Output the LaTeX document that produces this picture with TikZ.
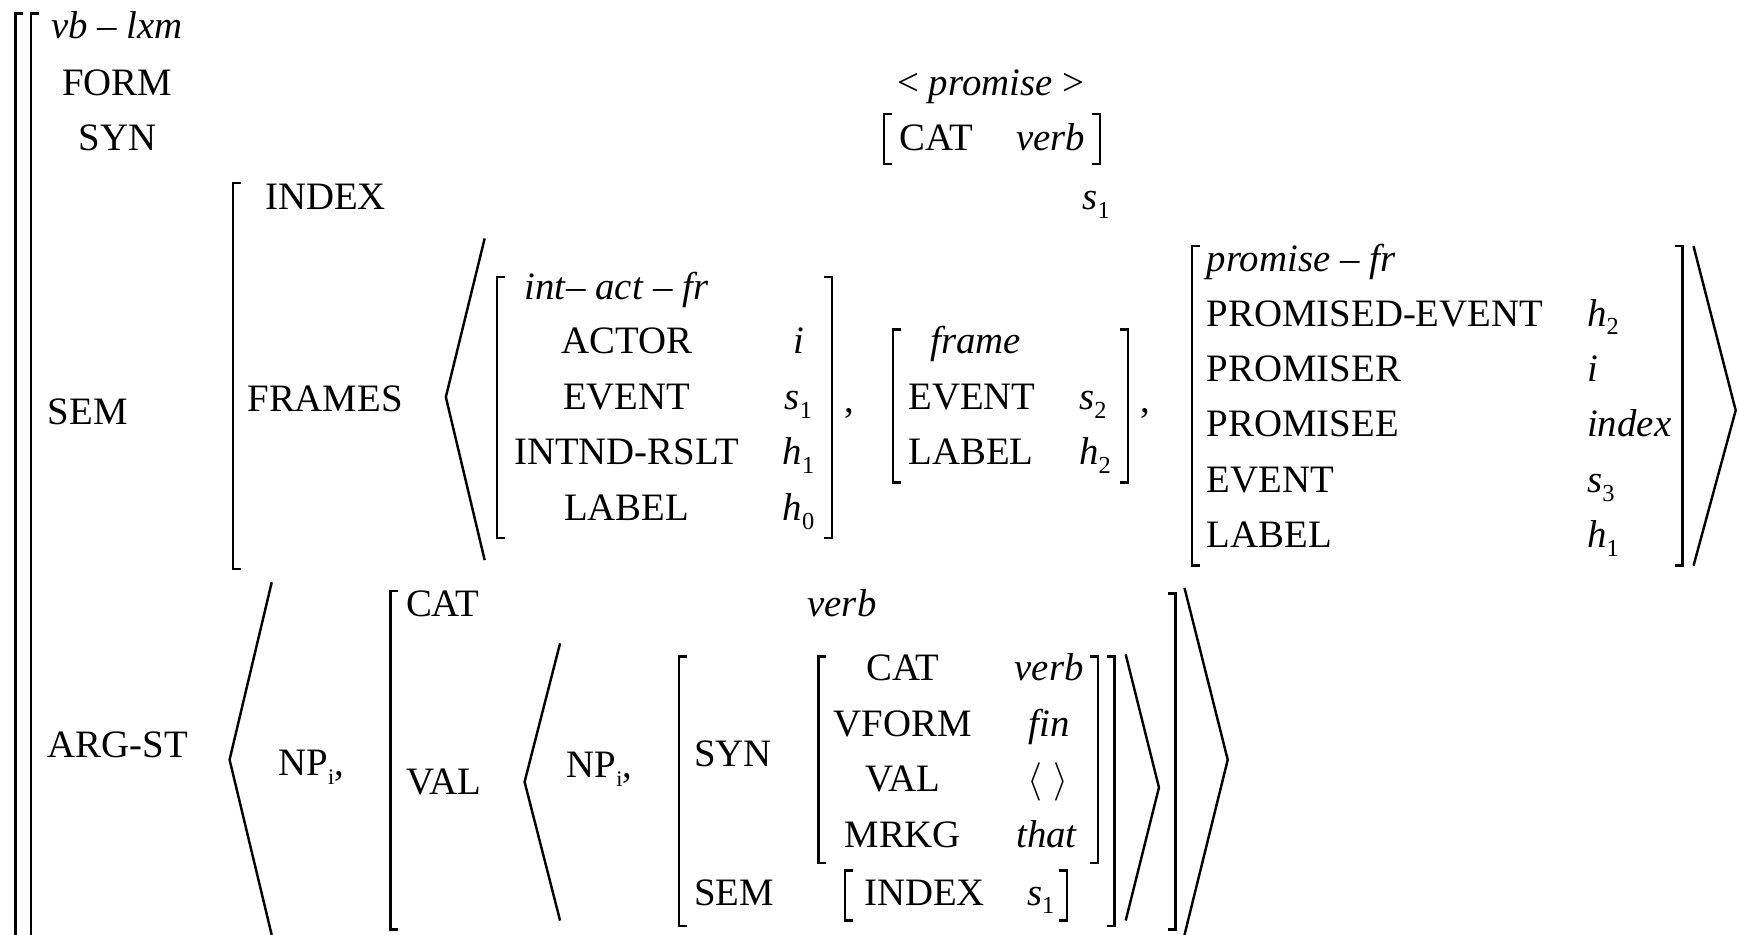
\documentclass[tikz,border=0pt]{standalone}
\usepackage{fontspec}
\setmainfont{Liberation Serif}

% square brackets: x, top, bottom
\newcommand{\lbrk}[3]{\draw (#1+7,#2) -- (#1,#2) -- (#1,#3) -- (#1+7,#3);}
\newcommand{\rbrk}[3]{\draw (#1-7,#2) -- (#1,#2) -- (#1,#3) -- (#1-7,#3);}
% italic letter with lowered index
\newcommand{\vsub}[2]{\textit{#1}\raisebox{-0.5ex}{\fontsize{11}{11}\selectfont #2}}
\newcommand{\npi}{NP\raisebox{-0.5ex}{\fontsize{10}{10}\selectfont i},}

\begin{document}
\begin{tikzpicture}[x=0.5pt, y=-0.5pt, line width=1.1pt,
    font=\fontsize{17.5}{21}\selectfont,
    attr/.style={anchor=base west, inner sep=0pt},
    ctr/.style={anchor=base, inner sep=0pt}]
    \useasboundingbox (0,0) rectangle (1568,843);

    % Outer brackets
    \draw (21,12) -- (14,12) -- (14,860);
    \draw (35,12) -- (28,12) -- (28,860);

    % Type, FORM and SYN
    \node[attr] (type) at (45,35) {\textit{vb} – \textit{lxm}};
    \node[attr] (form) at (55,86) {FORM};
    \node[attr] (syn) at (70,136) {SYN};
    \node[attr] (formval) at (808,86) {< \textit{promise} >};
    \lbrk{797}{103}{148}
    \node[attr] (syncat) at (810,136) {CAT};
    \node[attr] (synverb) at (915,136) {\textit{verb}};
    \rbrk{992}{103}{148}

    % SEM
    \node[attr] (sem) at (42,383) {SEM};
    \lbrk{210}{165}{513}
    \node[attr] (index) at (238,189) {INDEX};
    \node[attr] (indexval) at (975,189) {\vsub{s}{1}};
    \node[attr] (frames) at (222,371) {FRAMES};
    \draw (437,215) -- (402,358) -- (437,505);

    % int-act-fr
    \lbrk{448}{250}{485}
    \node[attr] (intact) at (472,270) {\textit{int}– \textit{act} – \textit{fr}};
    \node[ctr] (actor) at (565,319) {ACTOR};
    \node[ctr] (actorval) at (720,319) {\textit{i}};
    \node[ctr] (event) at (565,369) {EVENT};
    \node[ctr] (eventval) at (720,369) {\vsub{s}{1}};
    \node[ctr] (intnd) at (565,419) {INTND-RSLT};
    \node[ctr] (intndval) at (720,419) {\vsub{h}{1}};
    \node[ctr] (label) at (565,469) {LABEL};
    \node[ctr] (labelval) at (720,469) {\vsub{h}{0}};
    \rbrk{750}{250}{485}
    \node[attr] (commaA) at (760,372) {,};

    % frame
    \lbrk{805}{297}{435}
    \node[attr] (frame) at (838,319) {\textit{frame}};
    \node[attr] (fevent) at (818,369) {EVENT};
    \node[attr] (feventval) at (972,369) {\vsub{s}{2}};
    \node[attr] (flabel) at (818,419) {LABEL};
    \node[attr] (flabelval) at (972,419) {\vsub{h}{2}};
    \rbrk{1017}{297}{435}
    \node[attr] (commaB) at (1027,372) {,};

    % promise-fr
    \lbrk{1075}{222}{510}
    \node[attr] (promfr) at (1087,245) {\textit{promise} – \textit{fr}};
    \node[attr] (pevent) at (1087,294) {PROMISED-EVENT};
    \node[attr] (peventval) at (1430,294) {\vsub{h}{2}};
    \node[attr] (promiser) at (1087,344) {PROMISER};
    \node[attr] (promiserval) at (1430,344) {\textit{i}};
    \node[attr] (promisee) at (1087,394) {PROMISEE};
    \node[attr] (promiseeval) at (1430,394) {\textit{index}};
    \node[attr] (pevent2) at (1087,444) {EVENT};
    \node[attr] (pevent2val) at (1430,444) {\vsub{s}{3}};
    \node[attr] (plabel) at (1087,494) {LABEL};
    \node[attr] (plabelval) at (1430,494) {\vsub{h}{1}};
    \rbrk{1517}{222}{510}
    \draw (1527,222) -- (1565,370) -- (1527,510);

    % ARG-ST
    \node[attr] (argst) at (42,683) {ARG-ST};
    \draw (245,525) -- (207,685) -- (245,843);
    \node[attr] (npA) at (250,699) {\npi};
    \lbrk{352}{533}{838}
    \node[attr] (argcat) at (365,556) {CAT};
    \node[attr] (argverb) at (727,556) {\textit{verb}};
    \node[attr] (argval) at (365,716) {VAL};
    \draw (505,580) -- (473,705) -- (505,830);
    \node[attr] (npB) at (510,701) {\npi};

    % complement
    \lbrk{612}{592}{835}
    \node[attr] (csyn) at (625,691) {SYN};
    \node[attr] (csem) at (625,816) {SEM};
    \lbrk{738}{592}{778}
    \node[ctr] (ccat) at (814,614) {CAT};
    \node[ctr] (ccatval) at (946,614) {\textit{verb}};
    \node[ctr] (cvform) at (814,664) {VFORM};
    \node[ctr] (cvformval) at (946,664) {\textit{fin}};
    \node[ctr] (cval) at (814,714) {VAL};
    \node[ctr] (cvalval) at (945,714) {$\big\langle\;\big\rangle$};
    \node[ctr] (cmrkg) at (814,764) {MRKG};
    \node[ctr] (cmrkgval) at (944,764) {\textit{that}};
    \rbrk{990}{592}{778}
    \lbrk{762}{785}{830}
    \node[attr] (cindex) at (778,816) {INDEX};
    \node[attr] (cindexval) at (925,816) {\vsub{s}{1}};
    \rbrk{962}{785}{830}
    \rbrk{1005}{592}{835}
    \draw (1015,590) -- (1045,710) -- (1015,830);
    \rbrk{1060}{535}{838}
    \draw (1068,530) -- (1107,685) -- (1068,843);
\end{tikzpicture}
\end{document}
